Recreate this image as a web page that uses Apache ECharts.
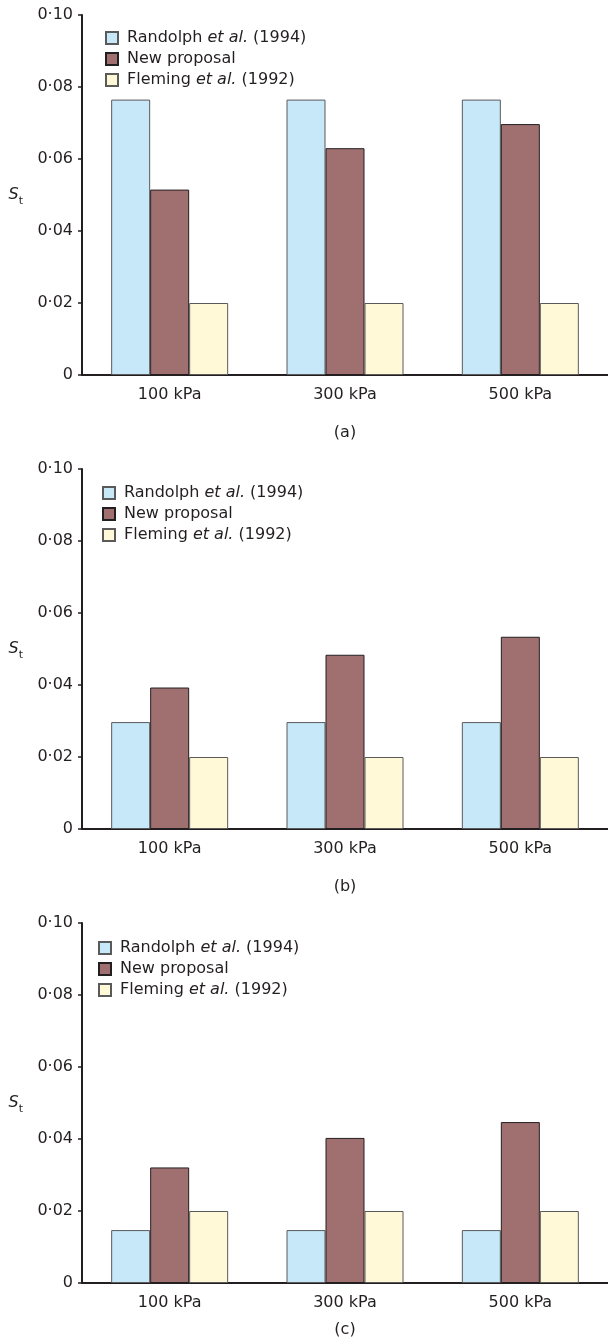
<!DOCTYPE html>
<html>
<head>
<meta charset="utf-8">
<script src="https://cdn.jsdelivr.net/npm/echarts@6/dist/echarts.min.js"></script>
<style>
  html, body { margin: 0; padding: 0; background: #fff; }
  #chart { width: 608px; height: 1339px; }
</style>
</head>
<body>
<div id="chart"></div>
<script>
// data
const categories = ['100 kPa', '300 kPa', '500 kPa'];
const seriesNames = ['Randolph et al. (1994)', 'New proposal', 'Fleming et al. (1992)'];
const captions = ['(a)', '(b)', '(c)'];
const yTicks = [0, 0.02, 0.04, 0.06, 0.08, 0.1];

const randolphA = [0.0765, 0.0765, 0.0765];
const proposalA = [0.0515, 0.0630, 0.0697];
const flemingA = [0.020, 0.020, 0.020];

const randolphB = [0.0297, 0.0297, 0.0297];
const proposalB = [0.0393, 0.0484, 0.0534];
const flemingB = [0.020, 0.020, 0.020];

const randolphC = [0.0147, 0.0147, 0.0147];
const proposalC = [0.0321, 0.0403, 0.0447];
const flemingC = [0.020, 0.020, 0.020];

const panels = [
  [randolphA, proposalA, flemingA],
  [randolphB, proposalB, flemingB],
  [randolphC, proposalC, flemingC],
];

const ink = '#231f20';
const font = 'DejaVu Sans';
const colors = ['#c6e8f9', '#a07070', '#fff9d7'];
const borders = ['#5a5a5a', ink, '#5a5a5a'];
const gridTops = [15, 469, 923];
const legendTops = [30, 485, 940];
const legendLefts = [105, 102, 98];
const captionTops = [425, 879, 1322];

function tickText(v) {
  if (v === 0) return '0';
  return v.toFixed(2).replace('.', '·');
}

function legendText(name) {
  if (name.indexOf('et al.') < 0) return '{n|' + name + '}';
  const parts = name.split('et al.');
  return '{n|' + parts[0] + '}{i|et al.}{n|' + parts[1] + '}';
}

const chart = echarts.init(document.getElementById('chart'));

const grid = [], xAxis = [], yAxis = [], legend = [], title = [], series = [];

panels.forEach((panel, p) => {
  grid.push({ left: 82, top: gridTops[p], width: 530, height: 360 });
  xAxis.push({
    type: 'category',
    gridIndex: p,
    data: categories,
    axisLine: { lineStyle: { color: ink, width: 2 } },
    axisTick: { show: false },
    axisLabel: { color: ink, fontFamily: font, fontSize: 16, margin: 12 },
  });
  yAxis.push({
    type: 'value',
    gridIndex: p,
    min: yTicks[0],
    max: yTicks[yTicks.length - 1],
    interval: yTicks[1] - yTicks[0],
    name: '{s|S}{t|t}',
    nameLocation: 'middle',
    nameRotate: 0,
    nameGap: 59,
    nameTextStyle: {
      rich: {
        s: { fontFamily: font, fontSize: 16, fontStyle: 'italic', color: ink, verticalAlign: 'top', lineHeight: 16 },
        t: { fontFamily: font, fontSize: 11, color: ink, verticalAlign: 'top', lineHeight: 11, padding: [9, 0, 0, 0] },
      },
    },
    splitLine: { show: false },
    axisLine: { show: true, lineStyle: { color: ink, width: 2 } },
    axisTick: { show: true, length: 4, lineStyle: { color: ink, width: 1.5 } },
    axisLabel: { color: ink, fontFamily: font, fontSize: 16, margin: 9, formatter: tickText },
  });
  legend.push({
    data: seriesNames,
    orient: 'vertical',
    left: legendLefts[p],
    top: legendTops[p],
    padding: 0,
    itemWidth: 12,
    itemHeight: 12,
    itemGap: 5,
    icon: 'rect',
    selectedMode: false,
    formatter: legendText,
    textStyle: {
      color: ink,
      fontFamily: font,
      fontSize: 16,
      lineHeight: 16,
      padding: [0, 0, 0, 4],
      rich: {
        n: { fontFamily: font, fontSize: 16, color: ink },
        i: { fontFamily: font, fontSize: 16, fontStyle: 'italic', color: ink },
      },
    },
  });
  title.push({
    text: captions[p],
    left: 345,
    top: captionTops[p],
    padding: 0,
    textAlign: 'center',
    textStyle: { color: ink, fontFamily: font, fontSize: 16, fontWeight: 'normal' },
  });
  panel.forEach((values, s) => {
    series.push({
      name: seriesNames[s],
      type: 'bar',
      xAxisIndex: p,
      yAxisIndex: p,
      data: values,
      barWidth: 39,
      barGap: '0%',
      itemStyle: { color: colors[s], borderColor: borders[s], borderWidth: 1 },
      emphasis: { disabled: true },
    });
  });
});

chart.setOption({
  animation: false,
  backgroundColor: '#fff',
  grid: grid,
  xAxis: xAxis,
  yAxis: yAxis,
  legend: legend,
  title: title,
  series: series,
});
</script>
</body>
</html>
